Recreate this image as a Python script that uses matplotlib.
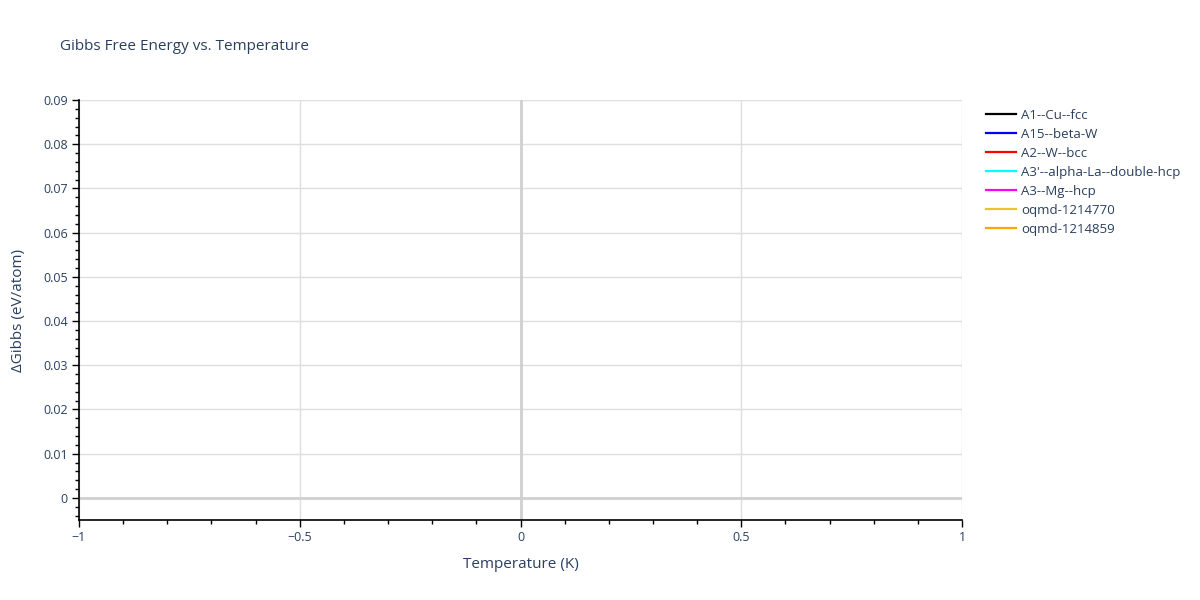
import matplotlib
matplotlib.use("Agg")
import matplotlib.pyplot as plt
from matplotlib.ticker import MultipleLocator, FuncFormatter

plt.rcParams['font.family'] = ['Open Sans', 'DejaVu Sans']

# Data (traces contain no visible extent)
series_names = ["A1--Cu--fcc", "A15--beta-W", "A2--W--bcc", "A3'--alpha-La--double-hcp",
                "A3--Mg--hcp", "oqmd-1214770", "oqmd-1214859"]
series_colors = ["black", "blue", "red", "cyan", "magenta", "#f0c030", "orange"]
temperature = [0]
dgibbs = {name: [0] for name in series_names}

xlim = (-1, 1)
ylim = (-0.005, 0.09)
x_ticks = [-1, -0.5, 0, 0.5, 1]
y_ticks = [0, 0.01, 0.02, 0.03, 0.04, 0.05, 0.06, 0.07, 0.08, 0.09]

text_color = "#2a3f5f"
grid_color = "#dedede"

fig = plt.figure(figsize=(12, 6), dpi=100)
ax = fig.add_axes([79/1200, 1 - 520/600, (962-79)/1200, (520-100)/600])

for name, color in zip(series_names, series_colors):
    ax.plot(temperature, dgibbs[name], color=color, lw=1.6, label=name)

ax.set_xlim(*xlim)
ax.set_ylim(*ylim)
ax.set_xticks(x_ticks)
ax.set_yticks(y_ticks)
ax.xaxis.set_minor_locator(MultipleLocator(0.1))
ax.yaxis.set_minor_locator(MultipleLocator(0.002))

def fmt_x(v, pos):
    if abs(v) < 1e-12:
        return "0"
    s = ("%g" % v)
    return s.replace("-", "\u2212")

def fmt_y(v, pos):
    if abs(v) < 1e-12:
        return "0"
    return "%g" % round(v, 4)

ax.xaxis.set_major_formatter(FuncFormatter(fmt_x))
ax.yaxis.set_major_formatter(FuncFormatter(fmt_y))

ax.grid(True, which="major", color=grid_color, lw=1)
ax.axhline(0, color="#d0d0d0", lw=2, zorder=1)
ax.axvline(0, color="#d0d0d0", lw=2, zorder=1)
ax.set_axisbelow(True)

for side in ["top", "right"]:
    ax.spines[side].set_visible(False)
for side in ["left", "bottom"]:
    ax.spines[side].set_color("black")
    ax.spines[side].set_linewidth(1.2)

ax.tick_params(axis="both", which="major", direction="out", length=5, width=1,
               colors="black", labelcolor=text_color, labelsize=9, pad=3)
ax.tick_params(axis="both", which="minor", direction="out", length=3, width=1, colors="black")

ax.set_xlabel("Temperature (K)", color=text_color, fontsize=11, labelpad=9)
ax.set_ylabel("\u0394Gibbs (eV/atom)", color=text_color, fontsize=11, labelpad=12)

fig.text(60/1200, 1 - 47/600, "Gibbs Free Energy vs. Temperature", color=text_color,
         fontsize=11, va="center", ha="left")

leg = fig.legend(loc="upper left", bbox_to_anchor=(986/1200, 1 - 109/600), frameon=False,
                 fontsize=9.5, handlelength=2.25, handletextpad=0.4, labelspacing=0.45,
                 borderaxespad=0, borderpad=0)
for t in leg.get_texts():
    t.set_color(text_color)

fig.savefig("out.png", dpi=100)
